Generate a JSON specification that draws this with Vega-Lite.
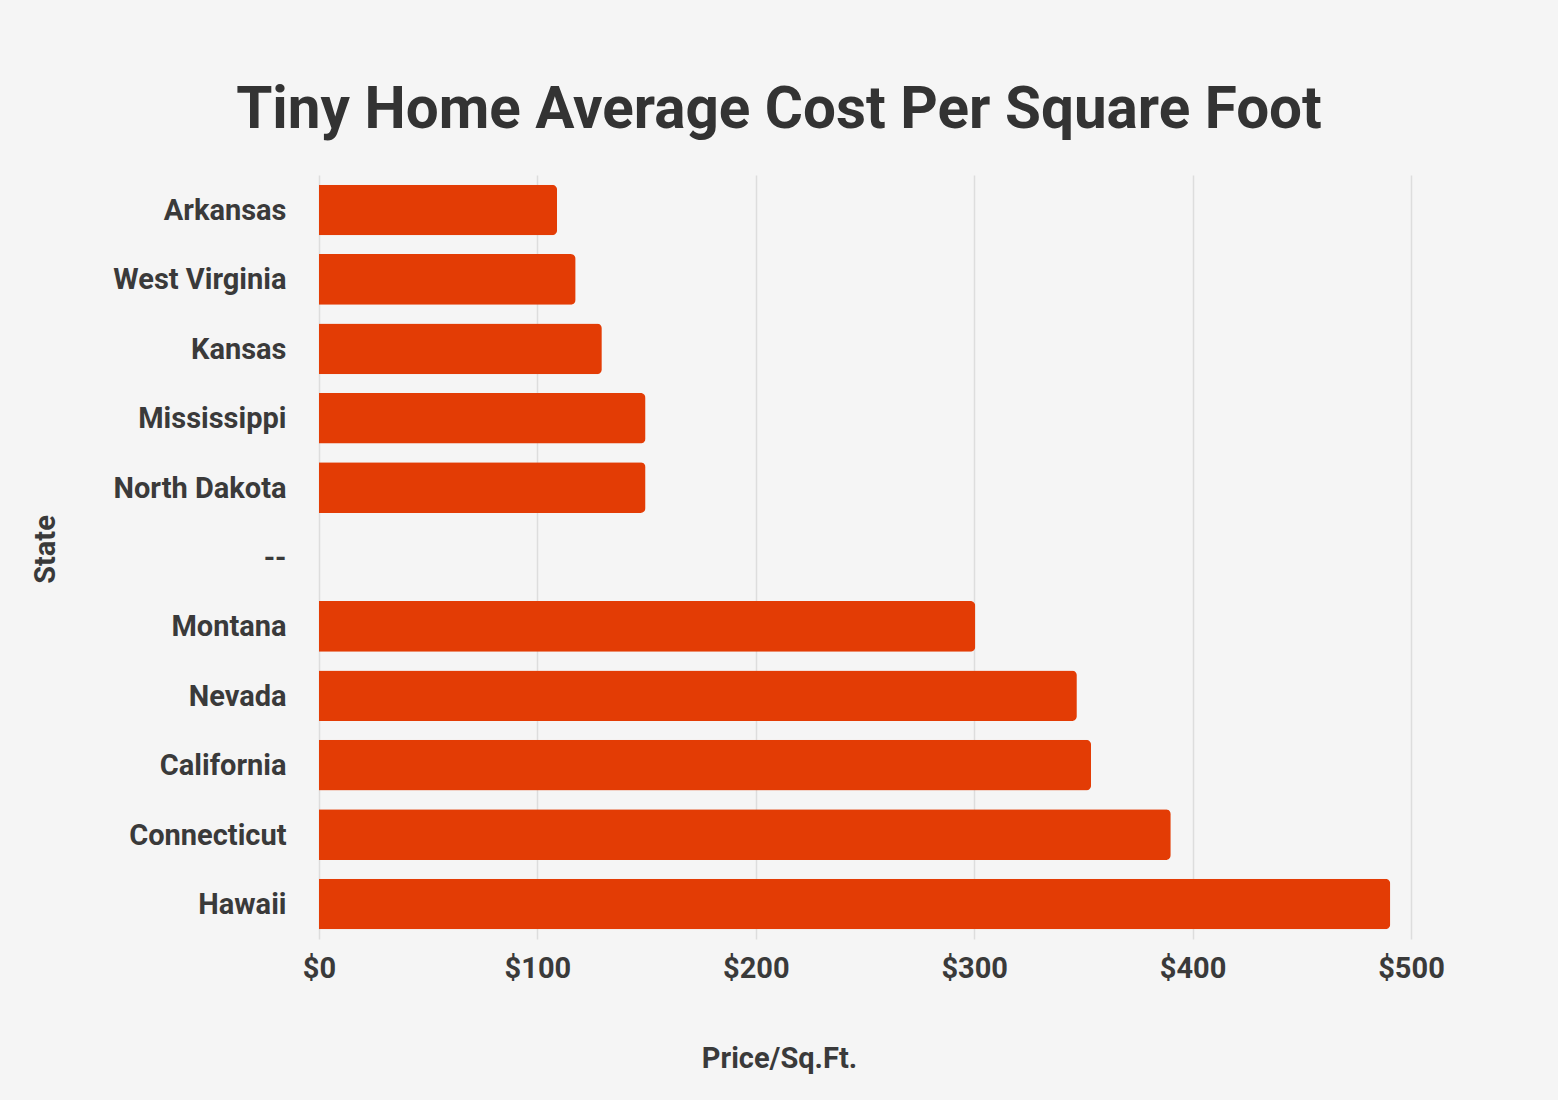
{
  "$schema": "https://vega.github.io/schema/vega-lite/v6.json",
  "width": 1092,
  "height": 764,
  "autosize": {"type": "none"},
  "padding": {"left": 319, "top": 175, "right": 147, "bottom": 161},
  "background": "#f5f5f5",
  "title": {
    "text": "Tiny Home Average Cost Per Square Foot",
    "font": "Roboto",
    "fontSize": 58.4,
    "fontWeight": "bold",
    "color": "#333333",
    "anchor": "middle",
    "dx": -86,
    "offset": 35
  },
  "data": {
    "values": [
      {"State": "Arkansas", "Price": 109},
      {"State": "West Virginia", "Price": 117.5},
      {"State": "Kansas", "Price": 129.5},
      {"State": "Mississippi", "Price": 149.5},
      {"State": "North Dakota", "Price": 149.5},
      {"State": "--", "Price": null},
      {"State": "Montana", "Price": 300.5},
      {"State": "Nevada", "Price": 347},
      {"State": "California", "Price": 353.5},
      {"State": "Connecticut", "Price": 390},
      {"State": "Hawaii", "Price": 490.5}
    ]
  },
  "mark": {"type": "bar", "color": "#e33c05", "cornerRadiusEnd": 5},
  "encoding": {
    "y": {
      "field": "State",
      "type": "nominal",
      "scale": {
        "domain": ["Arkansas", "West Virginia", "Kansas", "Mississippi", "North Dakota", "--", "Montana", "Nevada", "California", "Connecticut", "Hawaii"],
        "paddingInner": 0.27,
        "paddingOuter": 0.14
      },
      "axis": {
        "title": "State",
        "ticks": false,
        "domain": false,
        "labelPadding": 33,
        "labelOffset": 1,
        "labelFont": "Roboto",
        "labelFontSize": 29,
        "labelFontWeight": "bold",
        "labelColor": "#3a3a3a",
        "titleFont": "Roboto",
        "titleFontSize": 29,
        "titleFontWeight": "bold",
        "titleColor": "#3a3a3a",
        "titleX": -274,
        "titleY": 374,
        "titleAngle": -90,
        "titleBaseline": "middle",
        "titleAlign": "center"
      }
    },
    "x": {
      "field": "Price",
      "type": "quantitative",
      "scale": {"domain": [0, 500], "nice": false},
      "axis": {
        "title": "Price/Sq.Ft.",
        "values": [0, 100, 200, 300, 400, 500],
        "labelExpr": "'$' + datum.value",
        "ticks": false,
        "domain": false,
        "grid": true,
        "gridColor": "#dddddd",
        "gridWidth": 1.5,
        "labelPadding": 15,
        "labelFont": "Roboto",
        "labelFontSize": 29,
        "labelFontWeight": "bold",
        "labelColor": "#3a3a3a",
        "labelFlush": false,
        "titleFont": "Roboto",
        "titleFontSize": 29,
        "titleFontWeight": "bold",
        "titleColor": "#3a3a3a",
        "titleX": 460,
        "titleY": 119,
        "titleBaseline": "middle",
        "titleAlign": "center"
      }
    }
  },
  "config": {
    "view": {"stroke": null}
  }
}
